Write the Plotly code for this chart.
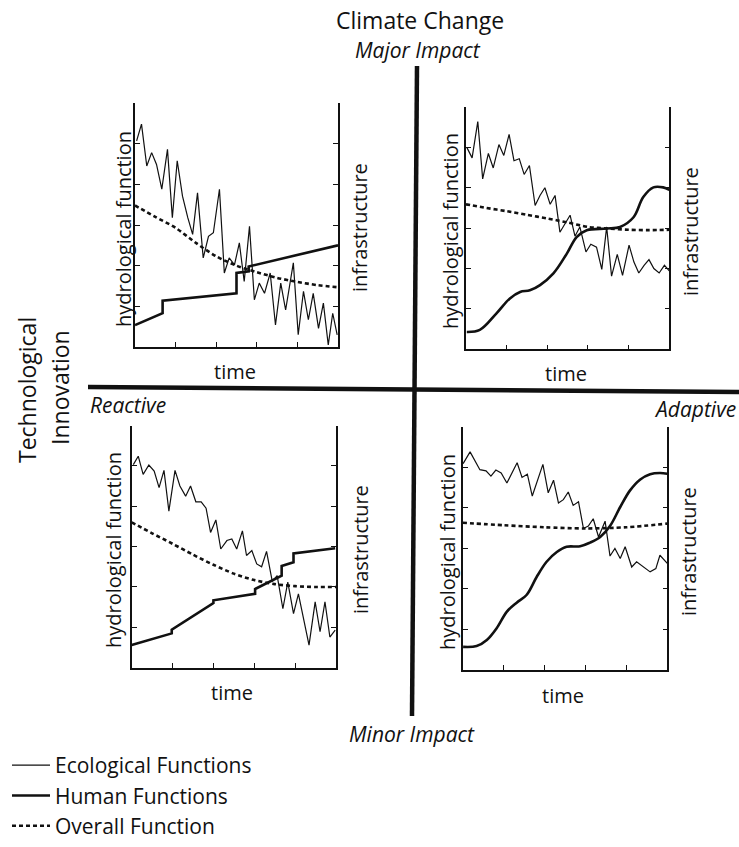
import plotly.graph_objects as go

# ---------------- data ----------------
time_ticks = [1, 2, 3, 4]
level_ticks = [1, 2, 3, 4, 5]

# Panel 1: Reactive / Major impact (top-left)
p1_eco_t = [0.04, 0.16, 0.29, 0.41, 0.53, 0.66, 0.80, 0.92, 1.04, 1.17, 1.30, 1.42, 1.54, 1.68, 1.81, 1.93, 2.08, 2.20, 2.32, 2.45,
            2.57, 2.69, 2.82, 2.94, 3.06, 3.19, 3.33, 3.46, 3.59, 3.71, 3.90, 4.02, 4.15, 4.27, 4.39, 4.52, 4.64, 4.76, 4.87, 4.98]
p1_eco_v = [5.07, 5.48, 4.45, 4.78, 4.49, 3.88, 4.86, 3.18, 4.58, 3.71, 3.18, 2.77, 3.79, 2.19, 2.72, 2.81, 3.88, 1.82, 2.19, 2.02,
            2.56, 1.61, 2.97, 1.16, 1.57, 1.32, 1.82, 0.54, 1.57, 0.91, 2.07, 0.30, 1.37, 0.67, 1.32, 0.46, 1.08, 0.05, 0.83, 0.30]
p1_hum_t = [0.0, 0.68, 0.68, 2.50, 2.50, 2.80, 2.80, 5.0]
p1_hum_v = [0.54, 0.83, 1.14, 1.32, 1.82, 1.86, 1.98, 2.50]
p1_ovr_t = [0, 0.5, 1, 1.5, 2, 2.5, 3, 3.5, 4, 4.5, 5]
p1_ovr_v = [3.48, 3.20, 2.93, 2.56, 2.23, 2.00, 1.84, 1.70, 1.60, 1.52, 1.47]

# Panel 2: Adaptive / Major impact (top-right)
p2_eco_t = [0.02, 0.15, 0.29, 0.41, 0.55, 0.67, 0.81, 0.93, 1.06, 1.18, 1.31, 1.43, 1.56, 1.70, 1.82, 1.94, 2.07, 2.19, 2.31, 2.43,
            2.56, 2.68, 2.80, 2.95, 3.07, 3.21, 3.34, 3.46, 3.58, 3.72, 3.85, 4.01, 4.13, 4.25, 4.38, 4.50, 4.62, 4.75, 4.88, 5.00]
p2_eco_v = [5.00, 4.74, 5.64, 4.22, 4.85, 4.49, 5.07, 4.80, 5.32, 4.67, 4.72, 4.33, 4.55, 3.56, 3.81, 4.00, 3.59, 3.81, 2.90, 3.09,
            3.32, 2.80, 3.03, 2.41, 2.60, 2.53, 1.98, 3.03, 1.81, 2.35, 1.83, 2.58, 2.16, 1.89, 2.08, 2.22, 2.00, 1.89, 2.08, 1.94]
p2_hum_t = [0.02, 0.34, 0.75, 1.08, 1.33, 1.57, 1.82, 2.15, 2.48, 2.72, 2.97, 3.46, 3.79, 4.12, 4.36, 4.61, 4.85, 5.0]
p2_hum_v = [0.43, 0.48, 0.89, 1.26, 1.42, 1.46, 1.59, 1.88, 2.37, 2.78, 2.95, 2.99, 3.03, 3.27, 3.77, 4.01, 4.01, 3.95]
p2_ovr_t = [0, 0.5, 1, 1.5, 2, 2.5, 3, 3.5, 4, 4.5, 5]
p2_ovr_v = [3.59, 3.50, 3.42, 3.33, 3.24, 3.14, 3.03, 2.99, 2.96, 2.95, 2.96]

# Panel 3: Reactive / Minor impact (bottom-left)
p3_eco_t = [0.04, 0.16, 0.28, 0.42, 0.55, 0.67, 0.79, 0.91, 1.06, 1.18, 1.32, 1.44, 1.57, 1.70, 1.82, 1.93, 2.06, 2.18, 2.33, 2.45,
            2.57, 2.71, 2.81, 2.94, 3.06, 3.18, 3.30, 3.44, 3.56, 3.70, 3.82, 3.96, 4.08, 4.22, 4.34, 4.49, 4.61, 4.73, 4.85, 4.98]
p3_eco_v = [5.03, 5.24, 4.79, 5.02, 4.87, 4.46, 4.89, 3.88, 4.89, 4.50, 4.25, 4.50, 4.11, 4.11, 3.95, 3.35, 3.66, 2.94, 3.15, 3.19,
            2.94, 3.39, 2.78, 2.90, 2.57, 2.50, 2.88, 2.14, 2.28, 1.46, 2.12, 1.34, 1.83, 1.19, 0.56, 1.63, 0.89, 1.63, 0.76, 0.93]
p3_hum_t = [0.0, 0.98, 0.98, 2.00, 2.00, 3.02, 3.02, 3.67, 3.67, 3.96, 3.96, 4.98]
p3_hum_v = [0.56, 0.85, 0.94, 1.60, 1.67, 1.83, 1.95, 2.28, 2.52, 2.61, 2.83, 2.96]
p3_ovr_t = [0, 0.5, 1, 1.5, 2, 2.5, 3, 3.5, 4, 4.5, 5]
p3_ovr_v = [3.60, 3.33, 3.07, 2.80, 2.55, 2.33, 2.17, 2.07, 2.02, 2.00, 2.00]

# Panel 4: Adaptive / Minor impact (bottom-right)
p4_eco_t = [0.01, 0.18, 0.42, 0.57, 0.69, 0.81, 0.94, 1.08, 1.33, 1.45, 1.58, 1.70, 1.96, 2.09, 2.22, 2.34, 2.46, 2.58,
            2.70, 2.83, 2.95, 3.07, 3.19, 3.32, 3.48, 3.60, 3.72, 3.85, 3.97, 4.13, 4.25, 4.58, 4.72, 4.82, 5.00]
p4_eco_v = [5.09, 5.38, 4.94, 4.91, 4.78, 4.93, 4.86, 4.61, 5.11, 4.75, 4.83, 4.29, 5.07, 4.37, 4.68, 4.12, 4.20, 4.39,
            4.06, 4.15, 3.49, 3.55, 3.73, 3.28, 3.67, 2.81, 3.00, 2.75, 3.04, 2.54, 2.67, 2.42, 2.50, 2.83, 2.63]
p4_hum_t = [0.01, 0.34, 0.59, 0.83, 1.08, 1.32, 1.56, 1.81, 2.05, 2.30, 2.54, 2.87, 3.11, 3.36, 3.60, 3.85, 4.09, 4.34, 4.58, 4.82, 5.00]
p4_hum_v = [0.57, 0.59, 0.74, 1.03, 1.44, 1.66, 1.85, 2.30, 2.67, 2.91, 3.04, 3.05, 3.14, 3.28, 3.55, 4.02, 4.43, 4.70, 4.83, 4.86, 4.84]
p4_ovr_t = [0, 1, 2, 3, 4, 5]
p4_ovr_v = [3.63, 3.57, 3.52, 3.49, 3.52, 3.61]

series_names = ["Ecological Functions", "Human Functions", "Overall Function"]
x_title = "time"
y_left_title = "hydrological function"
y_right_title = "infrastructure"

# ---------------- layout helpers ----------------
W, H = 739, 847
FONT = "Open Sans, Noto Sans, DejaVu Sans, sans-serif"
INK = "#111111"

# panel boxes in pixels: left, right, top, bottom
boxes = [
    (135.0, 338.0, 103.0, 347.0),
    (466.0, 669.3, 107.0, 349.3),
    (131.7, 336.0, 425.5, 667.7),
    (462.7, 667.3, 426.7, 670.0),
]
# label positions in pixels: (time x, time y), (left title x, y), (right title x, y)
label_pos = [
    ((235, 372), (123, 229), (360, 228)),
    ((566, 373), (451, 231), (690, 232)),
    ((232, 692), (113, 550), (360, 550)),
    ((563, 695), (447, 552), (688, 552)),
]
hum_shapes = ["linear", "spline", "linear", "spline"]

panels = [
    (p1_eco_t, p1_eco_v, p1_hum_t, p1_hum_v, p1_ovr_t, p1_ovr_v),
    (p2_eco_t, p2_eco_v, p2_hum_t, p2_hum_v, p2_ovr_t, p2_ovr_v),
    (p3_eco_t, p3_eco_v, p3_hum_t, p3_hum_v, p3_ovr_t, p3_ovr_v),
    (p4_eco_t, p4_eco_v, p4_hum_t, p4_hum_v, p4_ovr_t, p4_ovr_v),
]


def ann(text, x, y, size, xanchor="center", angle=0):
    return dict(text=text, x=x / W, y=1 - y / H, xref="paper", yref="paper", showarrow=False,
                xanchor=xanchor, yanchor="middle", textangle=angle,
                font=dict(size=size, color=INK, family=FONT))


fig = go.Figure()
layout_axes = {}
annotations = []

for i, (box, data) in enumerate(zip(boxes, panels)):
    n = i + 1
    xa = "x" if n == 1 else f"x{n}"
    yl_n = 2 * n - 1
    yr_n = 2 * n
    yl = "y" if yl_n == 1 else f"y{yl_n}"
    yr = f"y{yr_n}"
    l, r, t, b = box
    xdom = [l / W, r / W]
    ydom = [1 - b / H, 1 - t / H]
    eco_t, eco_v, hum_t, hum_v, ovr_t, ovr_v = data
    first = (n == 1)

    fig.add_trace(go.Scatter(x=eco_t, y=eco_v, xaxis=xa, yaxis=yl, mode="lines",
                             name=series_names[0], legendgroup="eco", showlegend=first,
                             line=dict(color=INK, width=1.2)))
    fig.add_trace(go.Scatter(x=hum_t, y=hum_v, xaxis=xa, yaxis=yr, mode="lines",
                             name=series_names[1], legendgroup="hum", showlegend=first,
                             line=dict(color=INK, width=2.6, shape=hum_shapes[i], smoothing=1.0)))
    fig.add_trace(go.Scatter(x=ovr_t, y=ovr_v, xaxis=xa, yaxis=yl, mode="lines",
                             name=series_names[2], legendgroup="ovr", showlegend=first,
                             line=dict(color=INK, width=2.6, dash="4px,3px", shape="spline", smoothing=0.8)))

    axis_common = dict(showline=True, linecolor=INK, linewidth=1.6, ticks="inside", ticklen=5,
                       tickwidth=1.4, tickcolor=INK, showticklabels=False, showgrid=False,
                       zeroline=False, fixedrange=True)
    xkey = "xaxis" if n == 1 else f"xaxis{n}"
    ylkey = "yaxis" if yl_n == 1 else f"yaxis{yl_n}"
    yrkey = f"yaxis{yr_n}"
    layout_axes[xkey] = dict(axis_common, domain=xdom, anchor=yl, range=[0, 5],
                             tickmode="array", tickvals=time_ticks)
    layout_axes[ylkey] = dict(axis_common, domain=ydom, anchor=xa, range=[0, 6],
                              tickmode="array", tickvals=level_ticks)
    layout_axes[yrkey] = dict(axis_common, domain=ydom, anchor=xa, range=[0, 6], overlaying=yl,
                              side="right", tickmode="array", tickvals=level_ticks)

    (tx, ty), (lx, ly), (rx, ry) = label_pos[i]
    annotations.append(ann(x_title, tx, ty, 20))
    annotations.append(ann(y_left_title, lx, ly, 20, angle=-90))
    annotations.append(ann(y_right_title, rx, ry, 20, angle=-90))

# big cross axes
shapes = [
    dict(type="line", xref="paper", yref="paper", x0=88 / W, y0=1 - 387 / H, x1=739 / W, y1=1 - 392 / H,
         line=dict(color=INK, width=4.5)),
    dict(type="line", xref="paper", yref="paper", x0=417 / W, y0=1 - 66 / H, x1=412 / W, y1=1 - 716 / H,
         line=dict(color=INK, width=4.5)),
]

annotations += [
    ann("Climate Change", 420, 20, 23),
    ann("<i>Major Impact</i>", 418, 50, 21),
    ann("<i>Minor Impact</i>", 412, 734, 21),
    ann("<i>Reactive</i>", 88, 405, 21, xanchor="left"),
    ann("<i>Adaptive</i>", 738, 409, 21, xanchor="right"),
    ann("Technological", 27, 390, 23, angle=-90),
    ann("Innovation", 60, 388, 23, angle=-90),
]

fig.update_layout(
    width=W, height=H,
    margin=dict(l=0, r=0, t=0, b=0),
    paper_bgcolor="white", plot_bgcolor="rgba(0,0,0,0)",
    font=dict(family=FONT, color=INK, size=20),
    shapes=shapes,
    annotations=annotations,
    showlegend=True,
    legend=dict(x=7 / W, y=1 - 745 / H, xanchor="left", yanchor="top",
                bgcolor="rgba(0,0,0,0)", borderwidth=0, itemwidth=38,
                tracegroupgap=0, traceorder="grouped",
                font=dict(size=21, color=INK, family=FONT)),
    **layout_axes,
)

fig.write_html(
    "out.html",
    config={"displayModeBar": False},
    post_script="document.body.style.margin='0';document.body.style.overflow='hidden';",
)
